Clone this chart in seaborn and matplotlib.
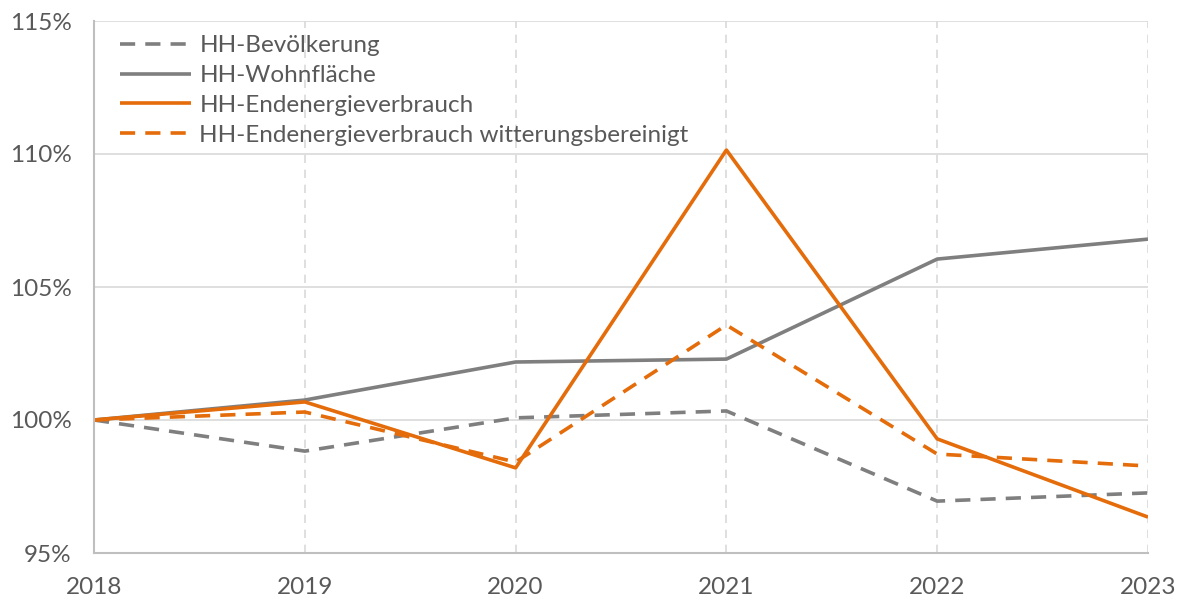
import matplotlib
matplotlib.use("Agg")
import matplotlib.pyplot as plt
import seaborn as sns
import pandas as pd

years = [2018, 2019, 2020, 2021, 2022, 2023]
bevoelkerung = [100.0, 98.83, 100.08, 100.34, 96.95, 97.26]
wohnflaeche = [100.0, 100.75, 102.18, 102.29, 106.05, 106.80]
endenergie = [100.0, 100.68, 98.20, 110.15, 99.29, 96.35]
endenergie_wb = [100.0, 100.30, 98.42, 103.57, 98.72, 98.27]
series_names = ["HH-Bevölkerung", "HH-Wohnfläche", "HH-Endenergieverbrauch",
                "HH-Endenergieverbrauch witterungsbereinigt"]
y_ticks = [95, 100, 105, 110, 115]

sns.set_theme(style="white")
plt.rcParams['font.family'] = ['Lato', 'DejaVu Sans']

GRAY = "#7f7f7f"
ORANGE = "#e46c0a"
styles = [(GRAY, (4.2, 2.8)), (GRAY, None), (ORANGE, None), (ORANGE, (4.2, 2.8))]
data = [bevoelkerung, wohnflaeche, endenergie, endenergie_wb]

fig = plt.figure(figsize=(11.82, 6.02), dpi=100)
ax = fig.add_axes([94/1182, 1-553/602, (1148-94)/1182, (553-21)/602])

for name, vals, (col, dash) in zip(series_names, data, styles):
    df = pd.DataFrame({"year": years, "val": vals})
    sns.lineplot(data=df, x="year", y="val", ax=ax, color=col, linewidth=2.6,
                 label=name)
    line = ax.get_lines()[-1]
    if dash is not None:
        line.set_dashes(dash)
    line.set_solid_capstyle("butt")
    line.set_dash_capstyle("butt")

ax.set_xlim(2018, 2023)
ax.set_ylim(95, 115)
ax.set_yticks(y_ticks)
ax.set_yticklabels([f"{t}%" for t in y_ticks])
ax.set_xticks(years)
ax.set_xticklabels([str(y) for y in years])
ax.set_xlabel("")
ax.set_ylabel("")

for t in [100, 105, 110, 115]:
    ax.axhline(t, color="#d9d9d9", linewidth=1.2, zorder=0)
for y in years[1:]:
    ax.axvline(y, color="#d9d9d9", linewidth=1.2, linestyle=(0, (5, 4)), zorder=0)

for s in ["top", "right"]:
    ax.spines[s].set_visible(False)
for s in ["left", "bottom"]:
    ax.spines[s].set_color("#bfbfbf")
    ax.spines[s].set_linewidth(1.5)

ax.tick_params(axis="both", length=0, labelsize=17.5, labelcolor="#595959")
ax.tick_params(axis="x", pad=17)
ax.tick_params(axis="y", pad=16)

leg = ax.legend(loc="upper left", frameon=False, fontsize=17.5, handlelength=2.9,
                bbox_to_anchor=(0.009, 1.005), labelspacing=0.36, handletextpad=0.35,
                borderaxespad=0.3)
for txt in leg.get_texts():
    txt.set_color("#595959")

fig.savefig("out.png", dpi=100, facecolor="white")
